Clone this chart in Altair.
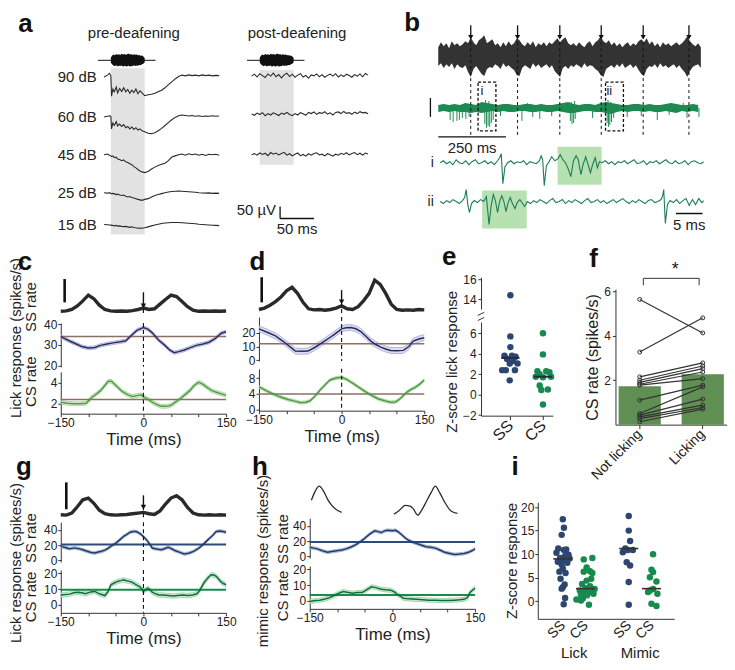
import altair as alt
import pandas as pd

FONT = "Liberation Sans"
INK = "#2a2a2a"
SS_DOT = "#2d4670"
CS_DOT = "#178a4e"
LET_SIZE = 26

# ======================= DATA =======================
# ---- a: evoked potentials (uV relative to trace baseline) ----
A_LEVELS = ["90 dB", "60 dB", "45 dB", "25 dB", "15 dB"]
A_T_PRE = [-10, -5, -2, 0, 1, 3, 5, 8, 10, 13, 16, 19, 22, 25, 28, 31, 34, 37, 40, 43, 46, 50, 55, 60, 65,
           70, 75, 80, 85, 90, 95, 100, 105, 110, 115, 120, 125, 130, 135, 140, 145, 150, 155, 160]
A_PRE_90 = [0, 8, 15, 5, -80, -50, -62, -42, -66, -48, -60, -45, -62, -52, -68, -55, -65, -50, -70, -58, -66, -78,
            -74, -72, -68, -62, -55, -45, -32, -20, -8, 2, 8, 5, 9, 6, 8, 5, 9, 6, 8, 5, 7, 6]
A_PRE_60 = [0, 3, 5, 2, -50, -25, -35, -20, -38, -30, -40, -32, -45, -40, -50, -42, -52, -45, -55, -50, -58, -62,
            -68, -70, -66, -58, -48, -36, -24, -12, -2, 5, 8, 6, 4, 6, 3, 5, 2, 4, 3, 5, 3, 4]
A_PRE_45 = [0, 3, -2, -5, -8, -5, -12, -10, -18, -20, -25, -22, -30, -33, -38, -42, -50, -55, -62, -68, -72, -75,
            -70, -60, -52, -45, -40, -36, -25, -10, -5, 0, 3, -2, 4, 0, 3, -2, 2, -3, 2, 0, 2, -2]
A_PRE_25 = [0, -2, 0, -3, -4, -3, -5, -8, -6, -10, -12, -10, -15, -18, -16, -20, -22, -25, -28, -30, -32, -28,
            -25, -18, -12, -8, -4, 0, 3, 5, 6, 7, 6, 5, 4, 3, 2, 0, -1, -2, -1, -3, -2, -3]
A_PRE_15 = [4, 3, 2, 2, 0, 0, -2, 0, -3, -2, -4, -5, -4, -6, -8, -6, -9, -10, -12, -11, -12, -10, -6, -2, 2, 5,
            8, 10, 11, 12, 12, 12, 11, 10, 9, 8, 7, 5, 4, 3, 2, 1, 0, -1]
A_T_POST = list(range(-12, 161, 4))
A_POST_90 = [0, 8, -4, 10, 2, -6, 9, 0, 12, -3, 6, -8, 5, 12, -2, 8, -5, 4, 10, -4, 3, -9, 5, 1, 9, -3, 6, -5, 3,
             8, 0, 10, -4, 5, -2, 8, 2, -5, 6, 0, 9, -3, 11, 4]
A_POST_60 = [0, -5, 4, -2, 6, -7, 2, -4, 5, 0, -6, 4, -1, 7, -2, -7, 2, -4, 6, 1, -5, 7, 2, 9, -1, 6, 3, 10, 0, 5,
             -4, 7, 9, 2, 11, 3, 6, -1, 8, 2, 10, 5, 7, 1]
A_POST_45 = [0, 5, -2, 7, 1, 6, -4, 9, 2, 7, -1, 5, 10, -2, 4, -5, 2, 7, -4, 1, -6, 4, -2, 5, 8, -1, 2, -5, 4, 0,
             -6, 2, -2, 6, 1, 8, -1, 5, 9, 0, 6, -2, 7, 3]
A_SOUND_T = [0, 2, 4, 6, 8, 10, 12, 14, 16, 18, 20, 22, 24, 26, 28, 30, 32, 34, 36, 38, 40, 42, 44, 46, 48, 50]
A_SOUND_UP = [12, 20, 24, 21, 26, 23, 25, 22, 27, 24, 26, 23, 25, 28, 24, 26, 22, 25, 23, 24, 21, 22, 19, 20, 16, 10]
A_SOUND_DN = [10, 18, 22, 25, 21, 26, 23, 24, 22, 27, 23, 25, 26, 22, 27, 24, 25, 21, 24, 22, 23, 20, 21, 17, 14, 8]

# ---- b: raw (black) and filtered (green) recording ----
B_LICKS = [120, 293, 449, 602, 757, 926]
B_BLACK_T = list(range(0, 971, 10))
B_BLACK_UP = [8, 13, 9, 12, 7, 14, 10, 12, 9, 11, 14, 12, 18, 13, 10, 15, 17, 20, 12, 14,
              16, 10, 12, 8, 13, 9, 14, 10, 12, 17, 15, 11, 9, 13, 10, 14, 8, 12, 10, 13,
              9, 13, 11, 14, 17, 13, 16, 18, 12, 10, 12, 9, 13, 10, 8, 12, 14, 9, 13, 15,
              19, 14, 12, 15, 10, 13, 9, 12, 8, 11, 13, 9, 12, 10, 14, 16, 13, 17, 11, 14,
              9, 12, 8, 13, 10, 12, 9, 11, 13, 10, 12, 15, 19, 14, 11, 9, 12, 8]
B_BLACK_DN = [11, 8, 13, 9, 12, 8, 14, 9, 12, 13, 10, 17, 22, 14, 11, 15, 19, 21, 14, 12,
              13, 9, 11, 14, 8, 12, 10, 13, 15, 20, 21, 13, 10, 12, 14, 8, 12, 9, 13, 11,
              9, 13, 10, 16, 19, 22, 13, 11, 14, 10, 12, 9, 11, 13, 8, 12, 10, 11, 14, 16,
              20, 22, 14, 12, 10, 13, 9, 12, 8, 13, 11, 9, 13, 10, 15, 19, 21, 14, 11, 12,
              9, 13, 8, 12, 10, 13, 11, 9, 13, 10, 14, 17, 22, 16, 12, 10, 9, 13]
B_GREEN_T = list(range(0, 961, 20))
B_GREEN_UP = [3, 4, 3, 4, 3, 5, 4, 3, 6, 5, 4, 3, 4, 4, 3, 3, 4, 4, 3, 4, 3, 3, 4, 5, 6, 4, 3, 4, 4, 3, 5, 6, 5,
              4, 3, 3, 4, 4, 3, 4, 3, 3, 4, 5, 4, 3, 3, 4, 3]
B_GREEN_DN = [4, 3, 4, 3, 4, 4, 5, 4, 5, 4, 3, 4, 3, 4, 4, 3, 3, 4, 4, 3, 4, 4, 3, 4, 5, 5, 4, 3, 3, 4, 4, 5, 6,
              4, 3, 4, 3, 3, 4, 3, 4, 4, 3, 4, 5, 3, 4, 3, 4]
B_SPK_T = [44, 55, 69, 78, 89, 102, 114, 172, 178, 184, 190, 196, 203, 230, 309, 349, 375, 419, 488, 494, 500,
           506, 570, 624, 629, 634, 640, 648, 698, 750, 809, 853, 919, 963]
B_SPK_D = [12, 14, 13, 12, 10, 11, 9, 16, 20, 18, 19, 15, 12, 8, 13, 9, 11, 8, 13, 16, 15, 11, 10, 15, 19, 17,
           14, 10, 9, 8, 12, 7, 10, 9]
B_UPSPK_T = [175, 187, 330, 491, 503, 627, 637, 905]
B_UPSPK_H = [8, 7, 5, 6, 7, 8, 6, 5]
B_BOX_T0 = [147, 618]
B_BOX_T1 = [213, 684]
B_BOX_LBL = ["i", "ii"]
# insets (ms, a.u.)
B_I_TRACE = [(0, 0), (0.6, 2), (1.2, -1), (1.8, 1), (2.4, -2), (3.0, 3), (3.6, 0), (4.2, -1), (4.8, 2), (5.4, -2),
             (6.0, 1), (6.6, 3), (7.2, -1), (7.8, 0), (8.4, 2), (9.0, -1), (9.6, 1), (10.2, -2), (10.8, 2),
             (11.2, 5), (11.5, 9), (11.8, -21), (12.2, -4), (12.7, 0), (13.3, 2), (13.9, -1), (14.5, 1),
             (15.1, 0), (15.7, 2), (16.3, -2), (16.9, 1), (17.5, 0), (18.1, -1), (18.7, 2), (19.0, 7), (19.3, 3),
             (19.6, -23), (20.0, -3), (20.5, 1), (21.0, 6), (21.6, 2), (22.2, 4), (22.6, 8), (23.1, 3), (23.6, 0),
             (24.1, -6), (24.6, -14), (25.1, 2), (25.6, 7), (26.0, 3), (26.5, -12), (26.9, -2), (27.4, 6),
             (27.8, -1), (28.3, -10), (28.7, -2), (29.2, 5), (29.6, -5), (30.0, 1), (30.5, 0), (31.1, 2),
             (31.7, -1), (32.3, 1), (32.9, -2), (33.5, 1), (34.1, 0), (34.7, 2), (35.3, -1), (35.9, 1), (36.5, 3),
             (37.1, -1), (37.7, 0), (38.3, 2), (38.9, -2), (39.5, 1), (40.1, 0), (40.7, 2), (41.3, -1), (41.9, 1),
             (42.5, 3), (43.1, 0), (43.7, -1), (44.3, 2), (44.9, -1), (45.5, 0), (46.1, 2), (46.7, -2), (47.3, 1),
             (47.9, 2), (48.5, 0), (49.1, -1), (49.6, 1)]
B_II_TRACE = [(0, 0), (0.6, -2), (1.2, 1), (1.8, -1), (2.4, 2), (3.0, 0), (3.6, -2), (4.2, 1), (4.6, 4), (4.9, 12),
              (5.2, -3), (5.5, -11), (5.9, -2), (6.4, 1), (7.0, -1), (7.6, 2), (8.2, 0), (8.7, 5), (9.2, -23),
              (9.6, -4), (10.0, 7), (10.4, 1), (10.8, -11), (11.2, 0), (11.6, 6), (12.0, 0), (12.4, -10),
              (12.8, -1), (13.2, 4), (13.6, -2), (14.1, -7), (14.5, -1), (15.0, 2), (15.4, -1), (15.9, -5),
              (16.4, 0), (17.0, -2), (17.6, 1), (18.2, -1), (18.8, 2), (19.4, 0), (20.0, -2), (20.6, 1), (21.2, 3),
              (21.8, -1), (22.4, 0), (23.0, 2), (23.6, -2), (24.2, 1), (24.8, -1), (25.4, 2), (26.0, 0), (26.6, -2),
              (27.2, 1), (27.8, 3), (28.4, -1), (29.0, 0), (29.6, 2), (30.2, -1), (30.8, 1), (31.4, -2), (32.0, 0),
              (32.6, 2), (33.2, -1), (33.8, 1), (34.4, 3), (35.0, 0), (35.6, -2), (36.2, 1), (36.8, -1), (37.4, 2),
              (38.0, 0), (38.6, -2), (39.2, 1), (39.8, 2), (40.4, -1), (41.0, 0), (41.6, 2), (41.9, 6), (42.1, 12),
              (42.4, -22), (42.8, -3), (43.3, 1), (43.9, -1), (44.5, 2), (45.1, -2), (45.7, 1), (46.3, 3),
              (46.9, -4), (47.5, 2), (48.1, -3), (48.7, 3), (49.3, -1), (49.6, 1)]
B_HL_T0 = [22.1, 7.9]
B_HL_T1 = [30.4, 16.3]

# ---- c, d, g, h: lick-triggered rates ----
LICK_T = list(range(-150, 151, 10))
C_LICK = [0.05, 0.06, 0.10, 0.20, 0.34, 0.50, 0.40, 0.22, 0.10, 0.06, 0.05, 0.06, 0.05, 0.07, 0.10, 0.14,
          0.10, 0.12, 0.25, 0.38, 0.50, 0.46, 0.32, 0.18, 0.08, 0.05, 0.06, 0.05, 0.06, 0.05, 0.06]
D_LICK = [0.10, 0.14, 0.22, 0.32, 0.45, 0.62, 0.72, 0.55, 0.30, 0.12, 0.09, 0.10, 0.08, 0.10, 0.14, 0.20,
          0.12, 0.10, 0.18, 0.35, 0.55, 0.92, 0.80, 0.55, 0.25, 0.10, 0.08, 0.09, 0.08, 0.10, 0.09]
G_LICK = [0.07, 0.06, 0.12, 0.30, 0.50, 0.55, 0.40, 0.20, 0.10, 0.07, 0.06, 0.07, 0.08, 0.10, 0.12, 0.14,
          0.10, 0.08, 0.18, 0.38, 0.55, 0.62, 0.50, 0.28, 0.12, 0.07, 0.06, 0.07, 0.06, 0.07, 0.06]
H_MIMIC = [(-147, 0.49, 1), (-140, 0.75, 1), (-133, 0.89, 1), (-125, 0.75, 1), (-117, 0.50, 1), (-110, 0.34, 1),
           (-100, 0.20, 1), (-92, 0.14, 1), (3, 0.09, 2), (13, 0.20, 2), (23, 0.34, 2), (32, 0.32, 2),
           (38, 0.24, 2), (46, 0.06, 2), (53, 0.20, 2), (61, 0.43, 2), (70, 0.70, 2), (78, 0.89, 2),
           (86, 0.70, 2), (95, 0.43, 2), (107, 0.17, 2), (118, 0.11, 2)]

C_SS = [(-150, 34.0), (-135, 32.0), (-124, 30.7), (-112, 29.3), (-100, 28.5), (-88, 28.8), (-78, 29.8),
        (-66, 30.5), (-55, 31.0), (-42, 31.5), (-32, 32.0), (-22, 34.5), (-12, 37.0), (0, 38.3), (8, 37.6),
        (16, 35.8), (27, 32.5), (39, 29.8), (48, 27.5), (56, 26.3), (64, 26.8), (73, 27.5), (84, 28.6),
        (96, 29.8), (108, 30.5), (119, 31.3), (130, 33.0), (141, 35.6), (150, 36.3)]
C_CS = [(-150, 2.1), (-138, 2.0), (-127, 1.95), (-115, 1.95), (-104, 2.0), (-93, 2.6), (-85, 2.9), (-78, 3.2),
        (-70, 3.7), (-64, 4.1), (-58, 4.1), (-50, 3.7), (-38, 3.1), (-28, 2.8), (-20, 2.65), (-10, 2.75),
        (-4, 2.8), (0, 2.6), (8, 2.4), (16, 2.1), (25, 1.85), (33, 1.7), (42, 1.7), (50, 1.8), (58, 2.1),
        (67, 2.45), (75, 2.8), (84, 3.2), (92, 3.7), (100, 4.0), (107, 3.85), (116, 3.5), (124, 3.2),
        (135, 3.0), (150, 2.75)]
D_SS = [(-150, 23), (-135, 20.5), (-120, 17.8), (-105, 13.5), (-94, 10), (-84, 6.7), (-72, 6.5), (-61, 6.7),
        (-48, 9.5), (-31, 14), (-20, 17), (-13, 19), (0, 23), (8, 23.8), (17, 24), (26, 23), (35, 21),
        (44, 17.5), (53, 14), (62, 11.5), (71, 9.6), (80, 8.2), (89, 7.2), (100, 7.0), (112, 7.2), (122, 10),
        (130, 14), (140, 15.5), (150, 16.5)]
D_CS = [(-150, 5.8), (-135, 4.7), (-120, 3.7), (-108, 3.1), (-97, 2.6), (-85, 2.2), (-74, 1.8), (-65, 1.9),
        (-57, 2.3), (-48, 3.5), (-39, 5.0), (-30, 6.3), (-21, 7.5), (-10, 8.0), (0, 8.2), (10, 7.6), (20, 6.7),
        (32, 5.6), (43, 4.6), (55, 3.6), (66, 2.8), (78, 2.3), (89, 1.9), (98, 2.0), (106, 2.8), (118, 4.4),
        (127, 5.2), (135, 5.8), (143, 6.6), (150, 7.5)]
G_SS = [(-150, 18.5), (-142, 17), (-134, 15.5), (-125, 16.5), (-117, 15.5), (-110, 14), (-102, 12), (-95, 10.5),
        (-88, 9.8), (-82, 11), (-76, 12), (-70, 13.5), (-65, 15.5), (-58, 19), (-50, 22.7), (-43, 27),
        (-36, 31.4), (-30, 34), (-24, 37), (-18, 38), (-13, 37.8), (-6, 35), (0, 31.4), (8, 25), (16, 16.3),
        (24, 15), (33, 14.2), (40, 16), (45, 17.4), (52, 15), (57, 13), (65, 11), (74, 8.5), (82, 9.5),
        (91, 12), (100, 16), (108, 20.6), (114, 25), (120, 29), (126, 33), (132, 37.8), (140, 38.5), (150, 37)]
G_CS = [(-150, 6.3), (-142, 6.5), (-134, 6.8), (-125, 7.8), (-117, 8.0), (-110, 7.5), (-105, 7.0), (-96, 8.2),
        (-88, 8.5), (-80, 7.0), (-70, 5.9), (-64, 8.5), (-59, 12.7), (-53, 13.8), (-47, 14.8), (-41, 15.3),
        (-36, 15.8), (-31, 15.2), (-27, 15.0), (-22, 14.5), (-18, 13.7), (-12, 12.5), (-7, 11.6), (-3, 10),
        (0, 8.5), (4, 9.5), (8, 10.5), (12, 9.5), (16, 8.0), (22, 7.0), (28, 6.3), (36, 6.2), (45, 5.9),
        (54, 5.6), (62, 5.9), (71, 6.2), (80, 5.9), (89, 6.3), (97, 7.0), (102, 9), (106, 11.6), (110, 14),
        (114, 15.8), (118, 17.5), (123, 19), (128, 18.8), (132, 18), (136, 16.5), (140, 14.8), (145, 13.5),
        (150, 12.7)]
H_SS = [(-150, 12), (-143, 11), (-136, 10), (-127, 7.5), (-118, 5.5), (-110, 6.5), (-101, 7.5), (-92, 8.5),
        (-84, 10), (-75, 12.5), (-66, 15.5), (-59, 19), (-52, 22.7), (-46, 26.5), (-40, 30), (-32, 33.5),
        (-26, 32.5), (-20, 31.3), (-14, 33.5), (-9, 34.3), (0, 33.8), (6, 34.3), (11, 32), (17, 28.4),
        (23, 24.5), (29, 21.4), (36, 19), (43, 17.2), (52, 15), (61, 12.9), (70, 12), (78, 11), (86, 8.5),
        (95, 5.5), (104, 4), (113, 2.6), (122, 3.2), (130, 3.9), (138, 5.5), (144, 7.5), (150, 10)]
H_CS = [(-150, -0.4), (-140, 0.2), (-132, 0.5), (-124, 1.0), (-115, 2.0), (-108, 3.0), (-101, 4.2), (-95, 5.2),
        (-89, 5.9), (-80, 5.3), (-72, 4.8), (-64, 5.3), (-55, 5.3), (-47, 7.0), (-38, 8.9), (-30, 8.4),
        (-20, 7.4), (-12, 7.0), (-3, 6.8), (3, 5.8), (9, 4.2), (15, 2.8), (20, 1.7), (30, 1.3), (43, 1.0),
        (55, 0.8), (66, 0.5), (78, 0.4), (89, 0.2), (100, 0.3), (113, 0.5), (122, 0.7), (130, 1.0),
        (136, 2.0), (141, 5.3), (146, 7.0), (150, 8.0)]
# baselines and SEM half-widths (spikes/s)
C_BASE = [34.0, 2.35]
C_SEM = [0.8, 0.18]
D_BASE = [12.0, 4.0]
D_SEM = [2.2, 0.35]
G_BASE = [21.0, 9.5]
G_SEM = [1.8, 1.4]
H_BASE = [19.0, 3.8]
H_SEM = [1.8, 1.3]

# ---- e: z-scored lick responses ----
E_SS = [14.4, 5.7, 4.65, 3.8, 3.8, 3.7, 3.5, 3.3, 3.05, 3.05, 2.4, 2.4, 2.4, 1.4]
E_SS_J = [0.0, 0.0, 0.0, -0.18, 0.05, 0.16, -0.1, 0.08, -0.02, 0.22, -0.25, -0.14, 0.14, -0.02]
E_CS = [6.0, 3.94, 2.3, 2.3, 2.2, 2.0, 1.76, 1.76, 1.7, 0.9, 0.5, 0.45, -0.95]
E_CS_J = [0.0, 0.0, -0.17, 0.1, 0.2, -0.1, -0.22, 0.25, 0.0, -0.1, 0.15, -0.05, 0.0]
E_MED = [3.6, 1.76]

# ---- f: CS rate not licking vs licking ----
F_COND = ["Not licking", "Licking"]
F_BARS = [1.73, 2.27]
F_NOT = [5.64, 3.27, 2.15, 2.0, 1.9, 1.82, 1.78, 1.1, 0.5, 0.43, 0.35, 0.27, 0.13]
F_LICK = [4.13, 4.81, 2.78, 2.64, 2.52, 2.37, 2.07, 1.78, 1.7, 1.15, 0.88, 0.77, 0.7]

# ---- i: z-scored lick and mimic responses ----
I_GROUPS = ["Lick SS", "Lick CS", "Mimic SS", "Mimic CS"]
I_VALUES = [
    [17.4, 15.6, 14.1, 11.2, 11.0, 10.9, 10.3, 9.9, 9.6, 9.2, 9.1, 8.8, 8.4, 8.2, 7.8, 7.0, 6.3, 6.0, 4.8, 3.6,
     3.0, 2.7, 0.7, -0.6],
    [9.2, 8.9, 7.2, 6.4, 6.3, 6.0, 4.8, 4.4, 3.7, 3.2, 2.8, 2.6, 2.6, 2.3, 2.1, 2.0, 1.6, 1.4, 1.3, 0.6, 0.4,
     0.2, -0.7],
    [18.1, 15.0, 12.8, 11.2, 10.9, 10.9, 10.4, 8.3, 7.6, 4.1, -0.7],
    [10.0, 6.7, 6.2, 5.1, 4.2, 2.6, 2.3, 2.0, 1.6, -0.5, -1.0],
]
I_JITTER = [
    [0.0, 0.05, -0.05, -0.2, 0.15, 0.05, -0.28, 0.25, 0.1, -0.12, 0.3, 0.02, -0.22, 0.2, -0.05, 0.0, -0.15, 0.12,
     -0.1, 0.08, 0.0, -0.05, 0.1, 0.04],
    [0.3, -0.08, 0.05, 0.2, -0.08, 0.3, 0.25, 0.05, -0.15, 0.2, 0.0, 0.4, 0.15, -0.25, -0.08, 0.2, 0.35, -0.2,
     0.07, -0.12, -0.4, -0.2, 0.15],
    [0.0, 0.0, 0.06, -0.15, -0.04, 0.18, -0.26, -0.09, 0.06, 0.0, 0.0],
    [0.07, 0.0, 0.07, -0.07, 0.22, 0.07, -0.07, -0.15, 0.26, 0.0, 0.22],
]
I_MED = [9.0, 2.7, 11.2, 2.7]
I_POS = [1.1, 2.1, 4.0, 5.0]


# ======================= HELPERS =======================
def Xq(f, sc, axis=None):
    return alt.X(f"{f}:Q", scale=sc, axis=axis)


def Yq(f, sc, axis=None):
    return alt.Y(f"{f}:Q", scale=sc, axis=axis)


def S(dom):
    return alt.Scale(domain=dom, nice=False, zero=False)


def flow(*items, spacing=0):
    return alt.concat(*items, columns=len(items), spacing=spacing, align="none")


def letter_mark(txt, x, y, xsc, ysc, xaxis=None, yaxis=None):
    d = pd.DataFrame({"x": [x], "y": [y], "label": [txt]})
    return alt.Chart(d).mark_text(fontSize=LET_SIZE, fontWeight="bold", color="#111", align="center",
                                  baseline="alphabetic").encode(
        x=Xq("x", xsc, xaxis), y=Yq("y", ysc, yaxis), text="label:N")


def title_col(width, height, texts, letter):
    xs = S([0, width])
    ys = alt.Scale(domain=[0, height], nice=False, zero=False, reverse=True)
    d = pd.DataFrame(texts, columns=["label", "x", "y"])
    t = alt.Chart(d).mark_text(angle=270, fontSize=15, color="#222", align="center", baseline="middle").encode(
        x=Xq("x", xs), y=Yq("y", ys), text="label:N")
    return alt.layer(t, letter_mark(letter[0], letter[1], letter[2], xs, ys)).properties(width=width, height=height)


# ======================= PANEL a =======================
A_XS = S([-149, 385])
A_YS = S([0, 896])
A_BASE_PRE = [667, 500, 342, 183, 46]
A_BASE_POST = [671, 512, 342]
A_SHIFT = 220
A_SND_Y = 737

rows = []
for name, base, vals in zip(A_LEVELS, A_BASE_PRE, [A_PRE_90, A_PRE_60, A_PRE_45, A_PRE_25, A_PRE_15]):
    for t, v in zip(A_T_PRE, vals):
        rows.append({"t": t, "y": base + v, "s": "pre " + name})
for name, base, vals in zip(A_LEVELS[:3], A_BASE_POST, [A_POST_90, A_POST_60, A_POST_45]):
    for t, v in zip(A_T_POST, vals):
        rows.append({"t": t + A_SHIFT, "y": base + v, "s": "post " + name})
a_lines = pd.DataFrame(rows)
snd = []
for sh, tag in [(0, "pre"), (A_SHIFT, "post")]:
    for t, u, d in zip(A_SOUND_T, A_SOUND_UP, A_SOUND_DN):
        snd.append({"t": t + sh, "y": A_SND_Y + u, "y1": A_SND_Y - d, "s": tag})
a_snd = pd.DataFrame(snd)
a_sndline = pd.DataFrame({"x0": [-19, -19 + A_SHIFT], "x1": [66, 66 + A_SHIFT], "y": [A_SND_Y, A_SND_Y]})
a_band = pd.DataFrame({"x0": [0, A_SHIFT], "x1": [50, 50 + A_SHIFT], "y0": [8, 300], "y1": [704, 696]})
a_lbl = pd.DataFrame({"t": [-21] * 5, "y": A_BASE_PRE, "label": A_LEVELS})
a_head = pd.DataFrame({"t": [34, 275], "y": [850, 850], "label": ["pre-deafening", "post-deafening"]})
a_bar = pd.DataFrame({"x0": [250, 250], "x1": [250, 300], "y0": [125, 75], "y1": [75, 75]})
a_uv = pd.DataFrame({"t": [244], "y": [110], "label": ["50 µV"]})
a_ms = pd.DataFrame({"t": [275], "y": [33], "label": ["50 ms"]})

a_chart = alt.layer(
    alt.Chart(a_band).mark_rect(color="#e2e2e2").encode(
        x=Xq("x0", A_XS), x2=alt.X2("x1"), y=Yq("y0", A_YS), y2=alt.Y2("y1")),
    alt.Chart(a_lines).mark_line(color=INK, strokeWidth=1.1).encode(
        x=Xq("t", A_XS), y=Yq("y", A_YS), detail="s:N"),
    alt.Chart(a_snd).mark_area(color="#111").encode(
        x=Xq("t", A_XS), y=Yq("y", A_YS), y2=alt.Y2("y1"), detail="s:N"),
    alt.Chart(a_sndline).mark_rule(color="#111", strokeWidth=1).encode(
        x=Xq("x0", A_XS), x2=alt.X2("x1"), y=Yq("y", A_YS)),
    alt.Chart(a_lbl).mark_text(align="right", baseline="middle", fontSize=15, color="#222").encode(
        x=Xq("t", A_XS), y=Yq("y", A_YS), text="label:N"),
    alt.Chart(a_head).mark_text(align="center", baseline="middle", fontSize=15, color="#222").encode(
        x=Xq("t", A_XS), y=Yq("y", A_YS), text="label:N"),
    alt.Chart(a_bar).mark_rule(color="#111", strokeWidth=1.3).encode(
        x=Xq("x0", A_XS), x2=alt.X2("x1"), y=Yq("y0", A_YS), y2=alt.Y2("y1")),
    alt.Chart(a_uv).mark_text(align="right", baseline="middle", fontSize=15, color="#222").encode(
        x=Xq("t", A_XS), y=Yq("y", A_YS), text="label:N"),
    alt.Chart(a_ms).mark_text(align="center", baseline="middle", fontSize=15, color="#222").encode(
        x=Xq("t", A_XS), y=Yq("y", A_YS), text="label:N"),
    letter_mark("a", -126, 854, A_XS, A_YS),
).properties(width=363, height=215)

# ======================= PANEL b =======================
B_XT = S([-140, 982])
B_XB = S([-7.5, 49.7])
B_Y = S([0, 210])
B_BLACK_Y = 177
B_GREEN_Y = 124
B_I_Y = 69
B_II_Y = 30
GREEN = "#1e8a52"
TEAL = "#1e7b5d"

b_black = pd.DataFrame({"t": B_BLACK_T[:len(B_BLACK_UP)],
                        "y": [B_BLACK_Y + u for u in B_BLACK_UP],
                        "y1": [B_BLACK_Y - d for d in B_BLACK_DN[:len(B_BLACK_UP)]]})
b_green = pd.DataFrame({"t": B_GREEN_T[:len(B_GREEN_UP)],
                        "y": [B_GREEN_Y + u for u in B_GREEN_UP],
                        "y1": [B_GREEN_Y - d for d in B_GREEN_DN[:len(B_GREEN_UP)]]})
b_spk = pd.DataFrame({"t": B_SPK_T, "y": [B_GREEN_Y] * len(B_SPK_T), "y1": [B_GREEN_Y - d for d in B_SPK_D]})
b_upspk = pd.DataFrame({"t": B_UPSPK_T, "y": [B_GREEN_Y] * len(B_UPSPK_T),
                        "y1": [B_GREEN_Y + h for h in B_UPSPK_H]})
b_lick = pd.DataFrame({"t": B_LICKS, "d0": [97] * 6, "d1": [192] * 6, "a0": [195] * 6, "a1": [207] * 6})
b_box = pd.DataFrame({"t0": B_BOX_T0, "t1": B_BOX_T1, "y0": [101, 101], "y1": [150, 150],
                      "lt": [t + 14 for t in B_BOX_T0], "ly": [141, 141], "label": B_BOX_LBL})
b_sb = pd.DataFrame({"x0": [-29, 0], "x1": [-29, 250], "y0": [115, 95], "y1": [134, 95]})
b_sbt = pd.DataFrame({"t": [125], "y": [84], "label": ["250 ms"]})
b_tr = pd.DataFrame([{"t": t, "y": B_I_Y + v, "s": "i"} for t, v in B_I_TRACE] +
                    [{"t": t, "y": B_II_Y + v, "s": "ii"} for t, v in B_II_TRACE])
b_hl = pd.DataFrame({"t0": B_HL_T0, "t1": B_HL_T1, "y0": [47, 3], "y1": [85, 41]})
b_il = pd.DataFrame({"t": [-1.2, -1.2], "y": [B_I_Y, B_II_Y], "label": ["i", "ii"]})
b_5 = pd.DataFrame({"x0": [44.4], "x1": [49.4], "y": [18]})
b_5t = pd.DataFrame({"t": [46.9], "y": [6], "label": ["5 ms"]})

b_chart = alt.layer(
    alt.Chart(b_black).mark_area(color="#333333").encode(x=Xq("t", B_XT), y=Yq("y", B_Y), y2=alt.Y2("y1")),
    alt.Chart(b_green).mark_area(color=GREEN).encode(x=Xq("t", B_XT), y=Yq("y", B_Y), y2=alt.Y2("y1")),
    alt.Chart(b_spk).mark_rule(color=GREEN, strokeWidth=1).encode(x=Xq("t", B_XT), y=Yq("y", B_Y), y2=alt.Y2("y1")),
    alt.Chart(b_upspk).mark_rule(color=GREEN, strokeWidth=1).encode(x=Xq("t", B_XT), y=Yq("y", B_Y), y2=alt.Y2("y1")),
    alt.Chart(b_lick).mark_rule(color="#111", strokeWidth=1, strokeDash=[3, 3]).encode(
        x=Xq("t", B_XT), y=Yq("d0", B_Y), y2=alt.Y2("d1")),
    alt.Chart(b_lick).mark_rule(color="#111", strokeWidth=1.3).encode(
        x=Xq("t", B_XT), y=Yq("a0", B_Y), y2=alt.Y2("a1")),
    alt.Chart(b_lick).mark_point(shape="triangle-down", filled=True, size=28, color="#111", opacity=1).encode(
        x=Xq("t", B_XT), y=Yq("a0", B_Y)),
    alt.Chart(b_box).mark_rect(fillOpacity=0, stroke="#111", strokeWidth=1.3, strokeDash=[3, 2]).encode(
        x=Xq("t0", B_XT), x2=alt.X2("t1"), y=Yq("y0", B_Y), y2=alt.Y2("y1")),
    alt.Chart(b_box).mark_text(fontSize=13, color="#222", align="center").encode(
        x=Xq("lt", B_XT), y=Yq("ly", B_Y), text="label:N"),
    alt.Chart(b_sb).mark_rule(color="#111", strokeWidth=1.3).encode(
        x=Xq("x0", B_XT), x2=alt.X2("x1"), y=Yq("y0", B_Y), y2=alt.Y2("y1")),
    alt.Chart(b_sbt).mark_text(fontSize=15, color="#222").encode(
        x=Xq("t", B_XT), y=Yq("y", B_Y), text="label:N"),
    letter_mark("b", -96, 201, B_XT, B_Y),
    # insets (own time scale)
    alt.Chart(b_hl).mark_rect(color="#a6d99d", opacity=0.8).encode(
        x=Xq("t0", B_XB), x2=alt.X2("t1"), y=Yq("y0", B_Y), y2=alt.Y2("y1")),
    alt.Chart(b_tr).mark_line(color=TEAL, strokeWidth=1.1).encode(
        x=Xq("t", B_XB), y=Yq("y", B_Y), detail="s:N"),
    alt.Chart(b_il).mark_text(fontSize=14, color="#222", align="right").encode(
        x=Xq("t", B_XB), y=Yq("y", B_Y), text="label:N"),
    alt.Chart(b_5).mark_rule(color="#111", strokeWidth=1.5).encode(
        x=Xq("x0", B_XB), x2=alt.X2("x1"), y=Yq("y", B_Y)),
    alt.Chart(b_5t).mark_text(fontSize=15, color="#222").encode(
        x=Xq("t", B_XB), y=Yq("y", B_Y), text="label:N"),
).resolve_scale(x="independent").properties(width=305, height=210)

# ======================= RATE PANELS (c, d, g, h) =======================
TX = S([-150, 150])
PAL_CD = dict(ss_line="#2a2b5c", ss_band="#cdd0ee", ss_edge="#a3a7d8", ss_base="#8d6f63",
              cs_line="#4f9a45", cs_band="#d3ebcc", cs_edge="#9ccf92", cs_base="#8d6f63", base_w=1.5)
PAL_GH = dict(ss_line="#1f3a68", ss_band="#bdc9e0", ss_edge="#93a6c9", ss_base="#2c4a7c",
              cs_line="#0f6b37", cs_band="#c4e6cd", cs_edge="#8fd0a2", cs_base="#1b8a4a", base_w=2)
W_RATE = 166


def rate_chart(pts, base, sem, dom, ticks, line_c, band_c, edge_c, base_c, base_w, height, dashed, xaxis):
    d = pd.DataFrame(pts, columns=["t", "v"])
    d["lo"] = d["v"] - sem
    d["hi"] = d["v"] + sem
    ys = S(dom)
    ya = alt.Axis(values=ticks, title="", labelFontSize=12, tickSize=3, labelPadding=1)
    layers = [
        alt.Chart(d).mark_area(color=band_c, opacity=0.75).encode(
            x=Xq("t", TX, xaxis), y=Yq("lo", ys, ya), y2=alt.Y2("hi")),
        alt.Chart(d).mark_line(color=edge_c, strokeWidth=0.8).encode(x=Xq("t", TX, xaxis), y=Yq("lo", ys, ya)),
        alt.Chart(d).mark_line(color=edge_c, strokeWidth=0.8).encode(x=Xq("t", TX, xaxis), y=Yq("hi", ys, ya)),
        alt.Chart(pd.DataFrame({"b": [base]})).mark_rule(color=base_c, strokeWidth=base_w).encode(
            y=Yq("b", ys, ya)),
        alt.Chart(d).mark_line(color=line_c, strokeWidth=1.5).encode(x=Xq("t", TX, xaxis), y=Yq("v", ys, ya)),
    ]
    if dashed:
        layers.append(alt.Chart(pd.DataFrame({"t": [0]})).mark_rule(
            color="#111", strokeDash=[4, 3], strokeWidth=1.1).encode(x=Xq("t", TX, xaxis)))
    return alt.layer(*layers).properties(width=W_RATE, height=height)


def rate_stack(lick_df, arrow, sbar, ss, ss_base, ss_sem, ss_dom, ss_ticks, cs, cs_base, cs_sem,
               cs_dom, cs_ticks, pal, heights, gaps, dashed=True, lick_w=3.4, interp="linear", letter=None):
    ly = S([0, 1])
    lk = [alt.Chart(lick_df).mark_line(color=INK, strokeWidth=lick_w, interpolate=interp).encode(
        x=Xq("t", TX), y=Yq("v", ly), detail="seg:N")]
    if arrow:
        ad = pd.DataFrame({"t": [0], "z0": [0], "z1": [arrow[0]], "a0": [arrow[0]], "a1": [arrow[1]]})
        lk.append(alt.Chart(ad).mark_rule(color="#111", strokeDash=[4, 3], strokeWidth=1.1).encode(
            x=Xq("t", TX), y=Yq("z0", ly), y2=alt.Y2("z1")))
        lk.append(alt.Chart(ad).mark_rule(color="#111", strokeWidth=1.4).encode(
            x=Xq("t", TX), y=Yq("a0", ly), y2=alt.Y2("a1")))
        lk.append(alt.Chart(ad).mark_point(shape="triangle-down", filled=True, size=30, color="#111",
                                           opacity=1).encode(x=Xq("t", TX), y=Yq("a0", ly)))
    if sbar:
        sd = pd.DataFrame({"t": [sbar[0]], "y0": [sbar[1]], "y1": [sbar[2]]})
        lk.append(alt.Chart(sd).mark_rule(color="#111", strokeWidth=2.6).encode(
            x=Xq("t", TX), y=Yq("y0", ly), y2=alt.Y2("y1")))
    if letter:
        lk.append(letter_mark(letter[0], letter[1], letter[2], TX, ly))
    lick = alt.layer(*lk).properties(width=W_RATE, height=heights[0])
    xaxis = alt.Axis(values=[-150, -100, -50, 0, 50, 100, 150],
                     labelExpr="(datum.value % 150 == 0) ? datum.label : ''",
                     title="Time (ms)", titleFontSize=17, titleFontWeight="normal", labelFontSize=12,
                     tickSize=3, labelFlush=False, titlePadding=3, labelPadding=1)
    ssc = rate_chart(ss, ss_base, ss_sem, ss_dom, ss_ticks, pal["ss_line"], pal["ss_band"], pal["ss_edge"],
                     pal["ss_base"], pal["base_w"], heights[1], dashed, None)
    csc = rate_chart(cs, cs_base, cs_sem, cs_dom, cs_ticks, pal["cs_line"], pal["cs_band"], pal["cs_edge"],
                     pal["cs_base"], pal["base_w"], heights[2], dashed, xaxis)
    return alt.vconcat(lick, alt.vconcat(ssc, csc, spacing=gaps[1]), spacing=gaps[0])


def lick_df(vals):
    return pd.DataFrame({"t": LICK_T[:len(vals)], "v": vals, "seg": [1] * len(vals)})


c_stack = rate_stack(lick_df(C_LICK), (0.2, 0.58), (-143, 0.3, 0.95), C_SS, C_BASE[0], C_SEM[0], [19.5, 40.5],
                     [20, 30, 40], C_CS, C_BASE[1], C_SEM[1], [1, 5], [2, 4], PAL_CD, (36, 44, 42), (0, -5))
c_col = title_col(33, 130, [("Lick response (spikes/s)", 6, 61), ("SS rate", 21.5, 30),
                            ("CS rate", 21.5, 105)], ("c", 15, -7))
c_panel = alt.hconcat(c_col, c_stack, spacing=0)
d_panel = rate_stack(lick_df(D_LICK), (0.31, 0.64), (-145, 0.3, 1.0), D_SS, D_BASE[0], D_SEM[0], [-0.5, 31.6],
                     [0, 10, 20], D_CS, D_BASE[1], D_SEM[1], [-0.2, 10.3], [0, 4, 8], PAL_CD, (36, 44, 42),
                     (-2, 1), letter=("d", -152.7, 1.19))
g_stack = rate_stack(lick_df(G_LICK), (0.29, 0.63), (-140, 0.23, 1.0), G_SS, G_BASE[0], G_SEM[0], [-2, 50],
                     [0, 20, 40], G_CS, G_BASE[1], G_SEM[1], [-5, 22], [0, 10, 20], PAL_GH, (35, 40, 43), (-3, 0))
g_col = title_col(33, 134, [("Lick response (spikes/s)", 6, 81), ("SS rate", 21.5, 56),
                            ("CS rate", 21.5, 115)], ("g", 14, -7))
g_panel = alt.hconcat(g_col, g_stack, spacing=0)
h_df = pd.DataFrame(H_MIMIC, columns=["t", "v", "seg"])
h_stack = rate_stack(h_df, None, None, H_SS, H_BASE[0], H_SEM[0], [-2, 50], [0, 20, 40], H_CS, H_BASE[1],
                     H_SEM[1], [-5, 22], [0, 10, 20], PAL_GH, (35, 40, 43), (-3, 0), dashed=False, lick_w=1.3,
                     interp="monotone")
h_col = title_col(38, 134, [("mimic response (spikes/s)", 10, 79), ("SS rate", 30, 57), ("CS rate", 30, 114)],
                  ("h", 7, -7))
h_panel = alt.hconcat(h_col, h_stack, spacing=0)

# ======================= PANEL e =======================
E_X = S([0.1, 2.3])
E_W = 72
e_pts = pd.DataFrame({"x": [1 + j for j in E_SS_J] + [2 + j for j in E_CS_J],
                      "v": E_SS + E_CS, "k": ["SS"] * len(E_SS) + ["CS"] * len(E_CS)})
e_col = alt.Color("k:N", scale=alt.Scale(domain=["SS", "CS"], range=[SS_DOT, CS_DOT]), legend=None)
e_up_y = S([13, 16.2])
e_lo_y = S([-2.05, 7.1])
e_up_ya = alt.Axis(values=[14, 16], title="", labelFontSize=12, tickSize=3)
e_up = alt.Chart(e_pts[e_pts.v > 10]).mark_circle(size=42, opacity=1).encode(
    x=Xq("x", E_X), y=Yq("v", e_up_y, e_up_ya), color=e_col).properties(width=E_W, height=32)
e_med = pd.DataFrame({"x0": [0.72, 1.72], "x1": [1.28, 2.28], "v": E_MED})
e_brk = pd.DataFrame({"x0": [0.0, 0.0], "x1": [0.2, 0.2], "y0": [7.25, 7.75], "y1": [7.55, 8.05]})
e_xa = alt.Axis(values=[1, 2], labelExpr="datum.value == 1 ? 'SS' : 'CS'", labelAngle=-45, labelOverlap=False,
                labelAlign="right", labelBaseline="middle", labelFontSize=16, title="", tickSize=4, labelPadding=3)
e_ya = alt.Axis(values=[-2, 0, 2, 4, 6], title="", labelFontSize=12, tickSize=3)
e_lo = alt.layer(
    alt.Chart(e_pts[e_pts.v < 10]).mark_circle(size=42, opacity=1).encode(
        x=Xq("x", E_X, e_xa), y=Yq("v", e_lo_y, e_ya), color=e_col),
    alt.Chart(e_med).mark_rule(color="#1f2a44", strokeWidth=2).encode(
        x=Xq("x0", E_X, e_xa), x2=alt.X2("x1"), y=Yq("v", e_lo_y, e_ya)),
    alt.Chart(e_brk).mark_rule(color="#333", strokeWidth=1).encode(
        x=Xq("x0", E_X, e_xa), x2=alt.X2("x1"), y=Yq("y0", e_lo_y, e_ya), y2=alt.Y2("y1")),
).properties(width=E_W, height=94)
e_tcol = title_col(20, 128, [("Z-score lick response", 9.5, 85)], ("e", 7, -12))
e_panel = alt.hconcat(e_tcol, alt.vconcat(e_up, e_lo, spacing=2), spacing=0)

# ======================= PANEL f =======================
F_W = 112
F_Y = S([0, 6.1])
F_TOP_Y = S([6.1, 6.46])
fx_axis = alt.Axis(title="", labelAngle=-45, labelAlign="right", labelBaseline="middle", labelFontSize=14,
                   tickSize=4, labelPadding=3, labelOverlap=False)
fy_axis = alt.Axis(values=[2, 4, 6], title="CS rate (spikes/s)", titleFontSize=16, titleFontWeight="normal",
                   labelFontSize=12, tickSize=3, titlePadding=3)
f_scale = alt.Scale(paddingInner=0.33, paddingOuter=0.05)


def FX(axis=None):
    return alt.X("cond:N", sort=F_COND, scale=f_scale, axis=axis)


f_bar = pd.DataFrame({"cond": F_COND, "v": F_BARS})
prow = []
for k, (a, b) in enumerate(zip(F_NOT, F_LICK)):
    prow.append({"cond": F_COND[0], "v": a, "cell": k})
    prow.append({"cond": F_COND[1], "v": b, "cell": k})
f_pairs = pd.DataFrame(prow)
f_br = pd.DataFrame({"cond": [F_COND[0], F_COND[0], F_COND[1], F_COND[1]], "v": [6.1, 6.41, 6.41, 6.1],
                     "k": [0, 1, 2, 3]})
f_star = pd.DataFrame({"cond": [F_COND[0]], "v": [6.78]})
f_let = pd.DataFrame({"cond": [F_COND[0]], "v": [6.91], "label": ["f"]})
f_top = alt.layer(
    alt.Chart(f_br).mark_line(color="#333", strokeWidth=1).encode(x=FX(), y=Yq("v", F_TOP_Y), order="k:Q"),
    alt.Chart(f_star).mark_text(text="*", fontSize=18, dx=32, color="#222", baseline="middle").encode(
        x=FX(), y=Yq("v", F_TOP_Y)),
    alt.Chart(f_let).mark_text(fontSize=LET_SIZE, fontWeight="bold", color="#111", align="center",
                               baseline="alphabetic", dx=-50).encode(
        x=FX(), y=Yq("v", F_TOP_Y), text="label:N"),
).properties(width=F_W, height=8)
f_main = alt.layer(
    alt.Chart(f_bar).mark_bar(color="#5f8f52").encode(x=FX(fx_axis), y=Yq("v", F_Y, fy_axis)),
    alt.Chart(f_pairs).mark_line(color="#333", strokeWidth=1.2).encode(
        x=FX(fx_axis), y=Yq("v", F_Y, fy_axis), detail="cell:N"),
    alt.Chart(f_pairs).mark_point(shape="circle", size=16, filled=False, color="#333", strokeWidth=1,
                                  opacity=1).encode(x=FX(fx_axis), y=Yq("v", F_Y, fy_axis)),
).properties(width=F_W, height=136)
f_panel = alt.vconcat(f_top, f_main, spacing=-2)

# ======================= PANEL i =======================
I_X = S([0, 6])
I_Y = S([-3.7, 21])
irow = []
for g, base, vals, jit in zip(I_GROUPS, I_POS, I_VALUES, I_JITTER):
    for v, j in zip(vals, jit):
        irow.append({"x": base + j, "v": v, "k": g.split()[1]})
i_pts = pd.DataFrame(irow)
i_med = pd.DataFrame({"x0": [p - 0.42 for p in I_POS], "x1": [p + 0.42 for p in I_POS], "v": I_MED})
i_grp = pd.DataFrame({"x": [1.6, 4.5], "v": [-10.9, -10.9], "label": ["Lick", "Mimic"]})
i_xa = alt.Axis(values=I_POS,
                labelExpr="(datum.value < 1.6 || (datum.value > 3 && datum.value < 4.5)) ? 'SS' : 'CS'",
                labelAngle=-45, labelAlign="right", labelBaseline="middle", labelFontSize=14, labelOverlap=False,
                title="", tickSize=0, labelPadding=4)
i_ya = alt.Axis(values=[0, 5, 10, 15, 20], title="Z-score response", titleFontSize=15,
                titleFontWeight="normal", labelFontSize=12, tickSize=3, titlePadding=1, labelPadding=1)
i_top = letter_mark("i", -1.0, 26.7, I_X, S([21, 25.2])).properties(width=137, height=20)
i_main = alt.layer(
    alt.Chart(i_pts).mark_circle(size=42, opacity=1).encode(
        x=Xq("x", I_X, i_xa), y=Yq("v", I_Y, i_ya),
        color=alt.Color("k:N", scale=alt.Scale(domain=["SS", "CS"], range=[SS_DOT, CS_DOT]), legend=None)),
    alt.Chart(i_med).mark_rule(color="#3a2f33", strokeWidth=1.6).encode(
        x=Xq("x0", I_X, i_xa), x2=alt.X2("x1"), y=Yq("v", I_Y, i_ya)),
    alt.Chart(i_grp).mark_text(fontSize=15, color="#222").encode(
        x=Xq("x", I_X, i_xa), y=Yq("v", I_Y, i_ya), text="label:N"),
).properties(width=137, height=117)
i_panel = alt.vconcat(i_top, i_main, spacing=-2)

# ======================= LAYOUT =======================
row1 = flow(a_chart, b_chart, spacing=29)
row2 = flow(flow(flow(c_panel, d_panel, spacing=4), e_panel, spacing=6), f_panel, spacing=30)
row3 = flow(flow(g_panel, h_panel, spacing=15), i_panel, spacing=18)

chart = alt.vconcat(row1, alt.vconcat(row2, row3, spacing=-36), spacing=7).properties(
    padding={"left": 0, "top": 0, "right": 0, "bottom": 0}
).configure(font=FONT).configure_view(stroke=None).configure_axis(
    domainColor="#333", tickColor="#333", labelColor="#222", titleColor="#222", grid=False,
    labelFont=FONT, titleFont=FONT
).configure_text(font=FONT).configure_title(font=FONT)

chart.save("out.html", embed_options={"renderer": "svg", "actions": False})
